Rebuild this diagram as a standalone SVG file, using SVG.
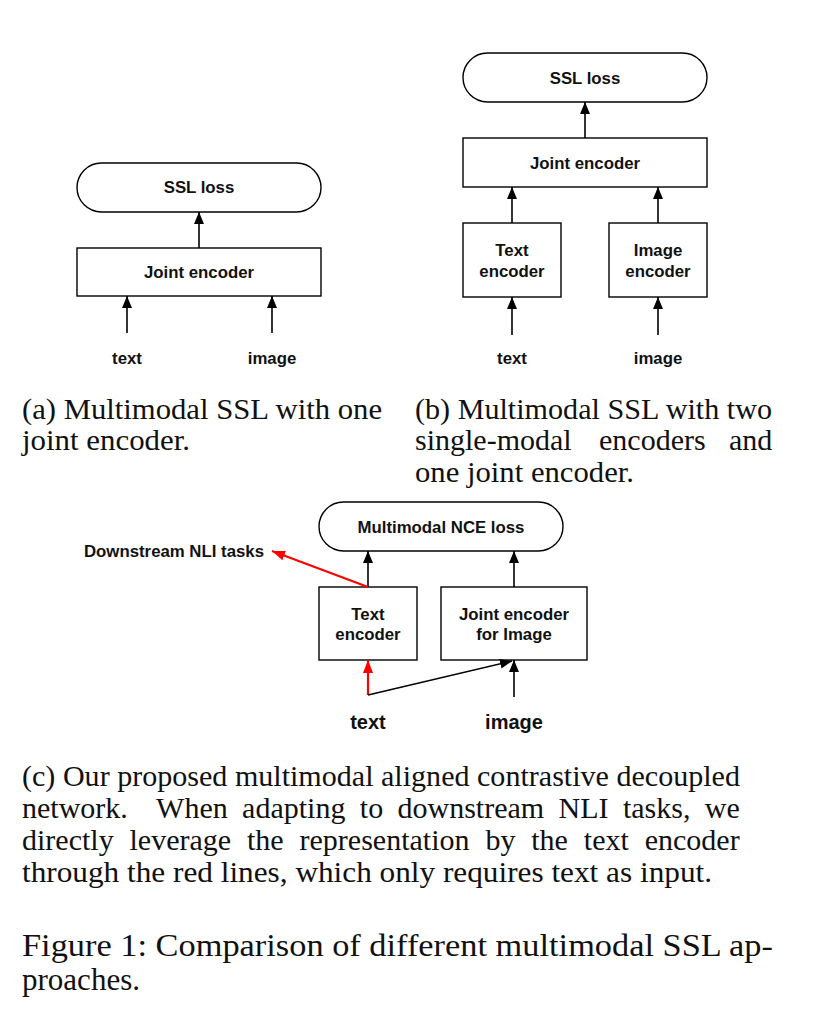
<svg xmlns="http://www.w3.org/2000/svg" width="830" height="1036" viewBox="0 0 830 1036">
<style>
.box{fill:#fff;stroke:#000;stroke-width:1.4}
.lbl{font-family:"Liberation Sans",Arial,sans-serif;font-weight:bold;font-size:16.8px;fill:#111;text-anchor:middle}
.lblL{font-family:"Liberation Sans",Arial,sans-serif;font-weight:bold;font-size:20px;fill:#111;text-anchor:middle}
.cap{font-family:"Liberation Serif","Times New Roman",serif;font-size:30px;fill:#111}
.fig{font-family:"Liberation Serif","Times New Roman",serif;font-size:31px;fill:#111}
.arr{fill:none;stroke:#000;stroke-width:1.6;marker-end:url(#ah)}
.red{fill:none;stroke:#f00;stroke-width:2.2;marker-end:url(#ahr)}
</style>
<defs>
<marker id="ah" markerUnits="userSpaceOnUse" markerWidth="13" markerHeight="13" viewBox="0 0 13 13" refX="12" refY="6.5" orient="auto">
<path d="M0,1.5 L12,6.5 L0,11.5 Z" fill="#000"/>
</marker>
<marker id="ahr" markerUnits="userSpaceOnUse" markerWidth="14" markerHeight="14" viewBox="0 0 14 14" refX="13" refY="7" orient="auto">
<path d="M0,2 L13,7 L0,12 Z" fill="#f00"/>
</marker>
</defs>
<rect width="830" height="1036" fill="#fff"/>

<!-- Panel (a) -->
<g id="a-ssl"><rect class="box" x="77" y="163" width="244" height="49" rx="24.5"/><text class="lbl" x="199" y="193">SSL loss</text></g>
<g id="a-joint"><rect class="box" x="77" y="248" width="244" height="48"/><text class="lbl" x="199" y="278">Joint encoder</text></g>
<g id="a-text"><text class="lbl" x="127" y="364">text</text></g>
<g id="a-image"><text class="lbl" x="272" y="364">image</text></g>

<!-- Panel (b) -->
<g id="b-ssl"><rect class="box" x="463" y="53" width="244" height="49" rx="24.5"/><text class="lbl" x="585" y="84">SSL loss</text></g>
<g id="b-joint"><rect class="box" x="463" y="138" width="244" height="49"/><text class="lbl" x="585" y="169">Joint encoder</text></g>
<g id="b-textenc"><rect class="box" x="463" y="223" width="98" height="74"/><text class="lbl" x="512" y="256">Text</text><text class="lbl" x="512" y="277">encoder</text></g>
<g id="b-imgenc"><rect class="box" x="609" y="223" width="98" height="74"/><text class="lbl" x="658" y="256">Image</text><text class="lbl" x="658" y="277">encoder</text></g>
<g id="b-text"><text class="lbl" x="512" y="364">text</text></g>
<g id="b-image"><text class="lbl" x="658" y="364">image</text></g>

<!-- Panel (c) -->
<g id="c-nce"><rect class="box" x="319" y="502" width="244" height="49" rx="24.5"/><text class="lbl" x="441" y="533">Multimodal NCE loss</text></g>
<g id="c-downstream"><text class="lbl" x="264" y="557" style="text-anchor:end">Downstream NLI tasks</text></g>
<g id="c-textenc"><rect class="box" x="319" y="587" width="98" height="73"/><text class="lbl" x="368" y="620">Text</text><text class="lbl" x="368" y="640">encoder</text></g>
<g id="c-jointimg"><rect class="box" x="441" y="587" width="146" height="73"/><text class="lbl" x="514" y="620">Joint encoder</text><text class="lbl" x="514" y="640">for Image</text></g>
<g id="c-text"><text class="lblL" x="368" y="729">text</text></g>
<g id="c-image"><text class="lblL" x="514" y="729">image</text></g>

<!-- Connectors -->
<g id="connectors">
<line class="arr" x1="199" y1="248" x2="199" y2="212"/>
<line class="arr" x1="127" y1="333" x2="127" y2="296"/>
<line class="arr" x1="272" y1="333" x2="272" y2="296"/>

<line class="arr" x1="585" y1="138" x2="585" y2="102"/>
<line class="arr" x1="512" y1="223" x2="512" y2="187"/>
<line class="arr" x1="658" y1="223" x2="658" y2="187"/>
<line class="arr" x1="512" y1="335" x2="512" y2="297"/>
<line class="arr" x1="658" y1="335" x2="658" y2="297"/>

<line class="arr" x1="368" y1="587" x2="368" y2="551"/>
<line class="arr" x1="514" y1="587" x2="514" y2="551"/>
<line class="red" x1="368" y1="587" x2="272" y2="551"/>
<line class="red" x1="368" y1="695" x2="368" y2="660"/>
<line class="arr" x1="368" y1="695" x2="512" y2="661"/>
<line class="arr" x1="514" y1="697" x2="514" y2="660"/>
</g>

<!-- Captions -->
<g id="captions">
<text class="cap" x="22" y="419" textLength="360" lengthAdjust="spacingAndGlyphs">(a) Multimodal SSL with one</text>
<text class="cap" x="22" y="450" textLength="168" lengthAdjust="spacingAndGlyphs">joint encoder.</text>
<text class="cap" x="415" y="419" textLength="357" lengthAdjust="spacingAndGlyphs">(b) Multimodal SSL with two</text>
<text class="cap" y="450"><tspan x="415">single-modal</tspan><tspan x="599">encoders</tspan><tspan x="729">and</tspan></text>
<text class="cap" x="415" y="482" textLength="219" lengthAdjust="spacingAndGlyphs">one joint encoder.</text>
<text class="cap" x="22" y="786" textLength="718" lengthAdjust="spacingAndGlyphs">(c) Our proposed multimodal aligned contrastive decoupled</text>
<text class="cap" x="22" y="818" style="white-space:pre;word-spacing:6.9px">network.  When adapting to downstream NLI tasks, we</text>
<text class="cap" x="22" y="850" style="word-spacing:8.4px">directly leverage the representation by the text encoder</text>
<text class="cap" x="22" y="882" textLength="690" lengthAdjust="spacingAndGlyphs">through the red lines, which only requires text as input.</text>
<text class="fig" x="22" y="956" textLength="751" lengthAdjust="spacingAndGlyphs">Figure 1: Comparison of different multimodal SSL ap-</text>
<text class="fig" x="22" y="990" textLength="118" lengthAdjust="spacingAndGlyphs">proaches.</text>
</g>
</svg>
